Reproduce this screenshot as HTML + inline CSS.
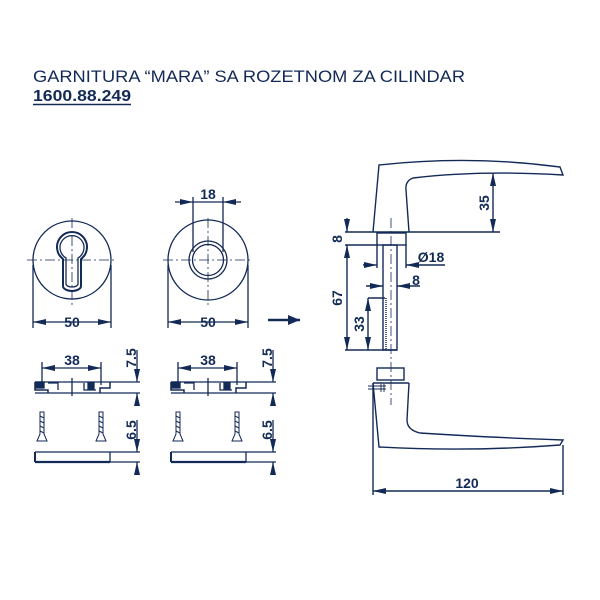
<!DOCTYPE html>
<html><head><style>html,body{margin:0;padding:0;background:#fff}svg{display:block}</style></head><body>
<svg width="600" height="600" viewBox="0 0 600 600" xmlns="http://www.w3.org/2000/svg" font-family="Liberation Sans, sans-serif">
<defs>
<marker id="a" viewBox="0 0 13 6" refX="13" refY="3" markerWidth="13" markerHeight="6" markerUnits="userSpaceOnUse" orient="auto-start-reverse"><path d="M0,0L13,3L0,6z" fill="#132a57"/></marker>
<marker id="b" viewBox="0 0 12 10" refX="12" refY="5" markerWidth="12" markerHeight="10" markerUnits="userSpaceOnUse" orient="auto"><path d="M0,0L12,5L0,10z" fill="#132a57"/></marker>
</defs>
<text x="33" y="82" font-size="17" fill="#132a57" textLength="432" lengthAdjust="spacingAndGlyphs">GARNITURA “MARA” SA ROZETNOM ZA CILINDAR</text>
<text x="33" y="101" font-size="16" font-weight="bold" fill="#132a57" textLength="98" lengthAdjust="spacingAndGlyphs">1600.88.249</text>
<line x1="33" y1="104.5" x2="131" y2="104.5" stroke="#132a57" stroke-width="1.5"/>
<g stroke="#132a57" fill="none" stroke-width="1.3">
<circle cx="72" cy="260" r="39"/>
<path d="M63,286 V259 A15,15 0 1 1 81,259 V286 A9,5 0 0 1 63,286 Z" stroke-width="2"/>
<path d="M66,284 V258 A12,12 0 1 1 78,258 V284 A6,3 0 0 1 66,284 Z"/>
<line x1="27" y1="260" x2="117" y2="260" stroke-dasharray="10,3,2,3" stroke-width="0.8"/>
<line x1="72" y1="218" x2="72" y2="307" stroke-dasharray="10,3,2,3" stroke-width="0.8"/>
<line x1="33" y1="265" x2="33" y2="328"/><line x1="111" y1="265" x2="111" y2="328"/>
<line x1="33" y1="322" x2="111" y2="322" marker-start="url(#a)" marker-end="url(#a)"/>
<circle cx="208" cy="260" r="40"/>
<circle cx="208" cy="260" r="19"/><circle cx="208" cy="260" r="15.5"/>
<line x1="163" y1="260" x2="253" y2="260" stroke-dasharray="10,3,2,3" stroke-width="0.8"/>
<line x1="208" y1="218" x2="208" y2="307" stroke-dasharray="10,3,2,3" stroke-width="0.8"/>
<line x1="193" y1="197" x2="193" y2="252"/><line x1="223" y1="197" x2="223" y2="252"/>
<line x1="175" y1="202" x2="193" y2="202" marker-end="url(#a)"/><line x1="241" y1="202" x2="223" y2="202" marker-end="url(#a)"/>
<line x1="193" y1="202" x2="223" y2="202"/>
<line x1="168" y1="265" x2="168" y2="328"/><line x1="248" y1="265" x2="248" y2="328"/>
<line x1="168" y1="322" x2="248" y2="322" marker-start="url(#a)" marker-end="url(#a)"/>
<line x1="268" y1="320" x2="300" y2="320" stroke-width="2.5" marker-end="url(#b)"/>
</g>
<g fill="#132a57" font-size="14" font-weight="bold" text-anchor="middle">
<text x="72" y="327">50</text><text x="208" y="327">50</text><text x="208" y="199">18</text>
<text x="72" y="365">38</text><text x="208" y="365">38</text>
<text x="467" y="488">120</text>
<text x="431" y="262">Ø18</text><text x="416" y="285">8</text>
<text transform="translate(136,358) rotate(-90)">7.5</text>
<text transform="translate(136,430) rotate(-90)">6.5</text>
<text transform="translate(272,358) rotate(-90)">7.5</text>
<text transform="translate(272,430) rotate(-90)">6.5</text>
<text transform="translate(489,203) rotate(-90)">35</text>
<text transform="translate(342,298) rotate(-90)">67</text>
<text transform="translate(364,324) rotate(-90)">33</text>
<text transform="translate(342,239) rotate(-90)">8</text>
</g>
<g id="sv" stroke="#132a57" fill="none" stroke-width="1.3">
<line x1="42" y1="362" x2="42" y2="385"/><line x1="101" y1="362" x2="101" y2="385"/>
<line x1="42" y1="368" x2="101" y2="368" marker-start="url(#a)" marker-end="url(#a)"/>
<line x1="35" y1="382" x2="140" y2="382"/><line x1="35" y1="393" x2="140" y2="393"/>
<path d="M35,382 V390 H48 V393 M110,382 V388 H100 V393" stroke-width="1.5"/>
<rect x="36" y="382" width="8" height="6" fill="#132a57"/><rect x="88" y="383" width="6" height="6" fill="#132a57"/>
<path d="M48,383 H58 V390 M84,383 V390 H96"/>
<line x1="72" y1="378" x2="72" y2="396"/>
<line x1="137" y1="350" x2="137" y2="382" marker-end="url(#a)"/>
<line x1="137" y1="405" x2="137" y2="393" marker-end="url(#a)"/>
<path d="M40,412 h4 v22 l3,7 h-10 l3,-7 z" stroke-width="1"/>
<line x1="40" y1="416" x2="44" y2="418" stroke-width="1"/><line x1="40" y1="421" x2="44" y2="423" stroke-width="1"/><line x1="40" y1="426" x2="44" y2="428" stroke-width="1"/><line x1="40" y1="431" x2="44" y2="433" stroke-width="1"/>
<path d="M99,412 h4 v22 l3,7 h-10 l3,-7 z" stroke-width="1"/>
<line x1="99" y1="416" x2="103" y2="418" stroke-width="1"/><line x1="99" y1="421" x2="103" y2="423" stroke-width="1"/><line x1="99" y1="426" x2="103" y2="428" stroke-width="1"/><line x1="99" y1="431" x2="103" y2="433" stroke-width="1"/>
<line x1="35" y1="452" x2="140" y2="452"/><line x1="35" y1="462" x2="110" y2="462" stroke-width="2.2"/>
<line x1="35" y1="452" x2="35" y2="462" stroke-width="2"/><line x1="110" y1="452" x2="110" y2="462"/>
<line x1="110" y1="462" x2="140" y2="462"/>
<line x1="137" y1="420" x2="137" y2="452" marker-end="url(#a)"/>
<line x1="137" y1="475" x2="137" y2="462" marker-end="url(#a)"/>
</g>
<use href="#sv" transform="translate(136,0)"/>
<g stroke="#132a57" fill="none" stroke-width="1.4">
<path d="M373,232 L379,165 Q470,155 560,167 L563,175 Q480,170 413,178 Q405,181 406,190 L409,232"/>
<line x1="345" y1="232" x2="500" y2="232"/>
<line x1="493" y1="173" x2="493" y2="232" marker-start="url(#a)" marker-end="url(#a)"/>
<rect x="377" y="233" width="29" height="12"/>
<line x1="345" y1="245" x2="377" y2="245"/>
<line x1="347" y1="218" x2="347" y2="232" marker-end="url(#a)"/>
<line x1="347" y1="245" x2="347" y2="350" marker-start="url(#a)" marker-end="url(#a)"/>
<rect x="383" y="245" width="14" height="105"/>
<line x1="377" y1="245" x2="377" y2="268"/><line x1="406" y1="245" x2="406" y2="268"/>
<line x1="363" y1="265" x2="377" y2="265" marker-end="url(#a)"/><line x1="445" y1="265" x2="406" y2="265" marker-end="url(#a)"/>
<line x1="366" y1="286" x2="383" y2="286" marker-end="url(#a)"/><line x1="420" y1="286" x2="397" y2="286" marker-end="url(#a)"/>
<line x1="368" y1="298" x2="385" y2="298"/>
<line x1="368" y1="298" x2="368" y2="350" marker-start="url(#a)" marker-end="url(#a)"/>
<line x1="386" y1="298" x2="386" y2="350" stroke-dasharray="1,1" stroke-width="1.5"/>
<line x1="345" y1="350" x2="397" y2="350"/>
<line x1="391" y1="218" x2="391" y2="405" stroke-dasharray="10,3,2,3" stroke-width="0.8"/>
<rect x="377" y="368" width="27" height="12"/>
<path d="M373,383 H409 M373,383 L379,447 Q470,452 560,445 L563,440 Q480,437 420,433 Q407,430 407,420 L409,383"/>
<path d="M368,386 H386 M368,389 H386 M381,384 V392 M384,384 V392" stroke-width="0.9"/>
<line x1="373" y1="383" x2="373" y2="495"/><line x1="563" y1="445" x2="563" y2="495"/>
<line x1="373" y1="491" x2="563" y2="491" marker-start="url(#a)" marker-end="url(#a)"/>
</g>
</svg>
</body></html>
